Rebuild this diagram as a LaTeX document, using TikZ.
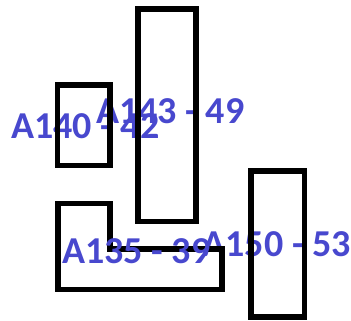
\documentclass[tikz,border=0pt]{standalone}
\usepackage{fontspec}
\setmainfont{Carlito}
\definecolor{lbl}{RGB}{72,72,206}
\tikzset{
  box/.style={draw=black, line width=5.5pt, fill=none},
  lab/.style={text=lbl, font=\fontsize{38}{38}\selectfont\bfseries, anchor=base west, inner sep=0pt}
}
\begin{document}
\begin{tikzpicture}[x=1pt,y=-1pt]
\useasboundingbox (0,0) rectangle (351,321);
\node[lab] (a140) at (11,138) {A140 - 42};
\node[lab] (a143) at (96,123) {A143 - 49};
\node[lab] (a150) at (202.5,256.5) {A150 - 53};
\draw[box] (57.5,85) rectangle (110,165.5);
\draw[box] (138,9) rectangle (196,221.5);
\draw[box] (251,171) rectangle (304.5,317);
\draw[box] (58,203.5) -- (110,203.5) -- (110,249) -- (222,249) -- (222,289.5) -- (58,289.5) -- cycle;
\node[lab] (a135) at (62,263) {A135 - 39};
\end{tikzpicture}
\end{document}
